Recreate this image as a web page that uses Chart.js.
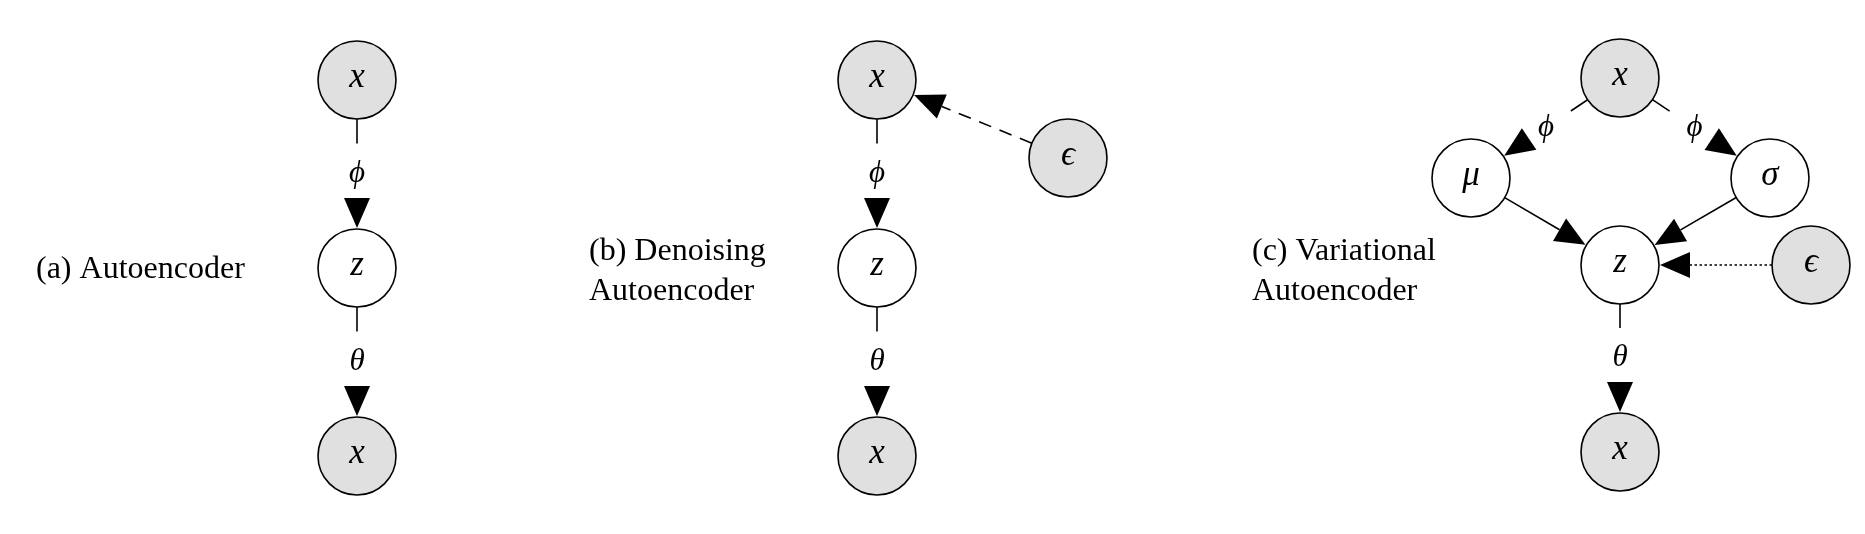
<!DOCTYPE html>
<html><head><meta charset="utf-8">
<script src="https://cdn.jsdelivr.net/npm/chart.js@4"></script>
<style>html,body{margin:0;padding:0;background:#fff}</style>
</head><body>
<canvas id="c" width="1865" height="534"></canvas>
<script>
// nodes
const nodeX = [357, 357, 357, 877, 877, 877, 1068, 1620, 1471, 1770, 1620, 1811, 1620];
const nodeY = [80, 268, 456, 80, 268, 456, 158, 78, 178, 178, 265, 265, 452];
const nodeText = ['x','z','x','x','z','x','\u03F5','x','\u03BC','\u03C3','z','\u03F5','x'];
const nodeShaded = [1,0,1,1,0,1,1,1,0,0,0,1,1];
// edges
const edgeFrom = [0, 1, 3, 4, 6, 7, 7, 8, 9, 11, 10];
const edgeTo   = [1, 2, 4, 5, 3, 8, 9, 10, 10, 10, 12];
const edgeText = ['\u03D5','\u03B8','\u03D5','\u03B8','','\u03D5','\u03D5','','','','\u03B8'];
const edgeStyle = ['solid','solid','solid','solid','dashed','solid','solid','solid','solid','dotted','solid'];
// captions
const capText = ['(a) Autoencoder','(b) Denoising','Autoencoder','(c) Variational','Autoencoder'];
const capX = [36, 589, 589, 1252, 1252];
const capY = [270, 252, 292, 252, 292];

const R = 39;
const diagram = {
  id:'diagram',
  beforeDatasetsDraw(chart){
    const ctx = chart.ctx, xs = chart.scales.x, ys = chart.scales.y;
    ctx.save();
    ctx.strokeStyle='#000'; ctx.fillStyle='#000'; ctx.lineWidth=1.6;
    for(let i=0;i<edgeFrom.length;i++){
      const ax=xs.getPixelForValue(nodeX[edgeFrom[i]]), ay=ys.getPixelForValue(nodeY[edgeFrom[i]]);
      const bx=xs.getPixelForValue(nodeX[edgeTo[i]]), by=ys.getPixelForValue(nodeY[edgeTo[i]]);
      const L=Math.hypot(bx-ax,by-ay), ux=(bx-ax)/L, uy=(by-ay)/L;
      const sx=ax+ux*R, sy=ay+uy*R, tx=bx-ux*(R+1), ty=by-uy*(R+1);
      const span=L-2*R-1, alen=30, aw=13;
      const segs=[];
      if(edgeText[i]){
        const mid=span*0.5, g=30;
        segs.push([0, Math.max(0,mid-g)]);
        segs.push([Math.min(span-alen,mid+g), span-alen]);
        ctx.font='italic 31px "Liberation Serif", serif';
        ctx.textAlign='center'; ctx.textBaseline='middle';
        ctx.fillText(edgeText[i], sx+ux*mid, sy+uy*mid);
      } else segs.push([0, span-alen]);
      ctx.setLineDash(edgeStyle[i]==='dashed'?[13,9]:edgeStyle[i]==='dotted'?[2.5,2.5]:[]);
      for(const [p,q] of segs){ if(q<=p) continue;
        ctx.beginPath(); ctx.moveTo(sx+ux*p,sy+uy*p); ctx.lineTo(sx+ux*q,sy+uy*q); ctx.stroke(); }
      ctx.setLineDash([]);
      const bxp=tx-ux*alen, byp=ty-uy*alen;
      ctx.beginPath(); ctx.moveTo(tx,ty);
      ctx.lineTo(bxp-uy*aw, byp+ux*aw); ctx.lineTo(bxp+uy*aw, byp-ux*aw); ctx.closePath(); ctx.fill();
    }
    ctx.font='32px "Liberation Serif", serif'; ctx.textAlign='left'; ctx.textBaseline='middle';
    for(let i=0;i<capText.length;i++) ctx.fillText(capText[i], xs.getPixelForValue(capX[i]), ys.getPixelForValue(capY[i]));
    ctx.restore();
  },
  afterDatasetsDraw(chart){
    const ctx = chart.ctx, xs = chart.scales.x, ys = chart.scales.y;
    ctx.save(); ctx.fillStyle='#000';
    ctx.font='italic 35px "Liberation Serif", serif'; ctx.textAlign='center'; ctx.textBaseline='middle';
    for(let i=0;i<nodeX.length;i++) ctx.fillText(nodeText[i], xs.getPixelForValue(nodeX[i]), ys.getPixelForValue(nodeY[i])-2);
    ctx.restore();
  }
};
new Chart(document.getElementById('c'),{
  type:'scatter',
  data:{datasets:[{
    data: nodeX.map((x,i)=>({x, y:nodeY[i]})),
    pointRadius:R, pointHoverRadius:R,
    backgroundColor: nodeShaded.map(s=>s?'#e0e0e0':'#ffffff'),
    borderColor:'#000', borderWidth:1.6,
    clip:false
  }]},
  options:{
    responsive:false, animation:false, devicePixelRatio:1,
    layout:{padding:0, autoPadding:false},
    events:[],
    plugins:{legend:{display:false}, tooltip:{enabled:false}},
    scales:{
      x:{type:'linear', min:0, max:1865, display:false},
      y:{type:'linear', min:0, max:534, reverse:true, display:false}
    }
  },
  plugins:[diagram]
});
</script>
</body></html>
